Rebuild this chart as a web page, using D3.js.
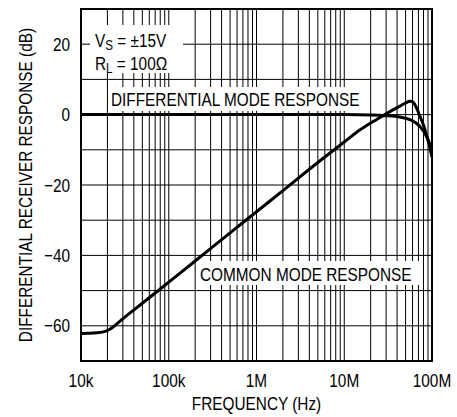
<!DOCTYPE html>
<html>
<head>
<meta charset="utf-8">
<script src="https://cdn.jsdelivr.net/npm/d3@7"></script>
<style>
  body { margin: 0; background: #fff; }
  text { font-family: "Liberation Sans", Arial, sans-serif; fill: #000; }
</style>
</head>
<body>
<div id="chart"></div>
<script>
// Values
const cmFreq = [1e4, 1.5e4, 1.9e4, 2.2e4, 2.6e4, 3e4, 5e4, 1e5, 2e5, 5e5, 1e6, 2e6, 5e6, 1e7, 1.5e7, 2e7, 2.9e7, 3.5e7, 4.3e7, 5e7, 5.6e7, 6.1e7, 6.7e7, 7.3e7, 8e7, 8.7e7, 9.4e7, 1e8];
const cmDb = [-62.2, -62.0, -61.6, -60.8, -59.3, -58.0, -53.6, -47.6, -41.6, -33.6, -27.6, -21.6, -13.6, -7.8, -4.4, -2.4, 0, 1.2, 2.4, 3.3, 3.8, 3.5, 1.8, -0.5, -3, -6, -9, -12];

const dmFreq = [1e4, 1e5, 1e6, 1e7, 2e7, 3e7, 4.3e7, 5.6e7, 7.3e7, 8.5e7, 9.5e7, 1e8];
const dmDb = [0, 0, 0, 0, -0.1, -0.3, -0.7, -1.4, -3.4, -5.8, -8.8, -12];

const xTicks = [1e4, 1e5, 1e6, 1e7, 1e8];
const xTickLabels = ['10k', '100k', '1M', '10M', '100M'];
const yTicks = [20, 0, -20, -40, -60];
const yGrid = [-60, -50, -40, -30, -20, -10, 0, 10, 20];

const W = 457, H = 417;
const margin = {top: 9, right: 25, bottom: 56, left: 81};
const FS = 18.5, SX = 0.83; // condensed look: squeeze text horizontally

const svg = d3.select('#chart')
  .append('svg')
  .attr('width', W)
  .attr('height', H);

const x = d3.scaleLog()
  .domain([1e4, 1e8])
  .range([margin.left, W - margin.right]);

const y = d3.scaleLinear()
  .domain([-70, 30])
  .range([H - margin.bottom, margin.top]);

// narrow text helper
function ntext(px, py, anchor, rot) {
  return svg.append('text')
    .attr('transform', `translate(${px},${py})${rot ? ' rotate(' + rot + ')' : ''} scale(${SX},1)`)
    .attr('text-anchor', anchor || 'start')
    .attr('font-size', FS);
}

// grid: every 1..9 per decade
const xGrid = [];
for (let e = 4; e < 8; e++) {
  for (let m = 2; m <= 9; m++) xGrid.push(m * Math.pow(10, e));
  if (e > 4) xGrid.push(Math.pow(10, e));
}

const grid = svg.append('g')
  .attr('stroke', '#000')
  .attr('stroke-width', 1);

grid.selectAll('.vg')
  .data(xGrid)
  .enter()
  .append('line')
  .attr('x1', d => x(d)).attr('x2', d => x(d))
  .attr('y1', y(30)).attr('y2', y(-70));

grid.selectAll('.hg')
  .data(yGrid)
  .enter()
  .append('line')
  .attr('x1', x(1e4)).attr('x2', x(1e8))
  .attr('y1', d => y(d)).attr('y2', d => y(d));

// curves
const line = d3.line()
  .x(d => x(d[0]))
  .y(d => y(d[1]))
  .curve(d3.curveMonotoneX);

svg.append('clipPath').attr('id', 'plot')
  .append('rect')
  .attr('x', x(1e4)).attr('y', y(30))
  .attr('width', x(1e8) - x(1e4))
  .attr('height', y(-70) - y(30));

const curves = svg.append('g').attr('clip-path', 'url(#plot)');

curves.append('path')
  .attr('d', line(d3.zip(dmFreq, dmDb)))
  .attr('fill', 'none')
  .attr('stroke', '#000')
  .attr('stroke-width', 3);

curves.append('path')
  .attr('d', line(d3.zip(cmFreq, cmDb)))
  .attr('fill', 'none')
  .attr('stroke', '#000')
  .attr('stroke-width', 3);

// labels with white backgrounds
function label(txt, bx, by, bw, bh, tx, ty) {
  svg.append('rect')
    .attr('x', bx).attr('y', by)
    .attr('width', bw).attr('height', bh)
    .attr('fill', '#fff');
  ntext(tx, ty).text(txt);
}

label('DIFFERENTIAL MODE RESPONSE', 108, 87, 250, 24, 111, 106);
label('COMMON MODE RESPONSE', 197, 261, 223, 24, 200, 281);

// supply / load box
svg.append('rect')
  .attr('x', 90).attr('y', 25)
  .attr('width', 93).attr('height', 48)
  .attr('fill', '#fff');

const t1 = ntext(95, 47);
t1.append('tspan').text('V');
t1.append('tspan').attr('font-size', 14).attr('dy', 3).text('S');
t1.append('tspan').attr('dy', -3).text(' = \u00b115V');

const t2 = ntext(95, 70);
t2.append('tspan').text('R');
t2.append('tspan').attr('font-size', 14).attr('dy', 3).text('L');
t2.append('tspan').attr('dy', -3).text(' = 100\u03a9');

// frame
svg.append('rect')
  .attr('x', x(1e4)).attr('y', y(30))
  .attr('width', x(1e8) - x(1e4))
  .attr('height', y(-70) - y(30))
  .attr('fill', 'none')
  .attr('stroke', '#000')
  .attr('stroke-width', 2);

// tick labels
xTicks.forEach((d, i) => {
  ntext(x(d), 387, 'middle').text(xTickLabels[i]);
});

yTicks.forEach(d => {
  ntext(70, y(d), 'end')
    .attr('dy', '0.36em')
    .text(d < 0 ? '\u2212' + Math.abs(d) : d);
});

// axis titles
ntext((x(1e4) + x(1e8)) / 2, 410, 'middle').text('FREQUENCY (Hz)');

ntext(32, (y(30) + y(-70)) / 2, 'middle', -90).text('DIFFERENTIAL RECEIVER RESPONSE (dB)');
</script>
</body>
</html>
